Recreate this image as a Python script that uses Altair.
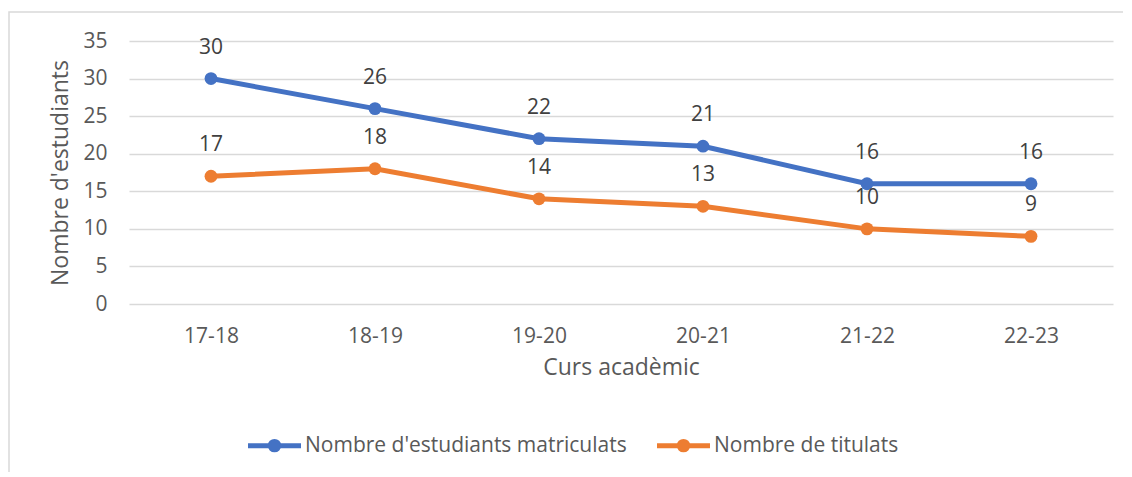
import altair as alt
import pandas as pd

cursos = ["17-18", "18-19", "19-20", "20-21", "21-22", "22-23"]
matriculats = [30, 26, 22, 21, 16, 16]
titulats = [17, 18, 14, 13, 10, 9]
series_names = ["Nombre d'estudiants matriculats", "Nombre de titulats"]
colors = ["#4472C4", "#ED7D31"]

rows = []
for c, v in zip(cursos, matriculats):
    rows.append({"Curs": c, "Valor": v, "Serie": series_names[0]})
for c, v in zip(cursos, titulats):
    rows.append({"Curs": c, "Valor": v, "Serie": series_names[1]})
df = pd.DataFrame(rows)

FONT = "Open Sans"

x_enc = alt.X("Curs:N", sort=cursos, title="Curs acadèmic",
              scale=alt.Scale(paddingInner=0, paddingOuter=0, align=0.5),
              axis=alt.Axis(labelAngle=0, domain=False, ticks=False, tickSize=0,
                            labelPadding=21, titlePadding=10,
                            labelFontSize=21, titleFontSize=23, grid=False))
y_enc = alt.Y("Valor:Q", title="Nombre d'estudiants",
              scale=alt.Scale(domain=[0, 35], nice=False),
              axis=alt.Axis(values=[0, 5, 10, 15, 20, 25, 30, 35], domain=False,
                            ticks=False, tickSize=0, labelPadding=22, titlePadding=10,
                            labelFontSize=21, titleFontSize=23, grid=True,
                            labelOverlap=False,
                            gridColor="#d9d9d9", gridWidth=1.5))

legend_path = ("M-2.5,0H2.5 "
               "M-0.4,0A0.4,0.4,0,1,0,0.4,0A0.4,0.4,0,1,0,-0.4,0 "
               "M-0.19,0A0.19,0.19,0,1,0,0.19,0A0.19,0.19,0,1,0,-0.19,0")

color_enc = alt.Color(
    "Serie:N", scale=alt.Scale(domain=series_names, range=colors), title=None,
    legend=alt.Legend(orient="none", legendX=132, legendY=391,
                      direction="horizontal",
                      symbolType=legend_path, symbolSize=449,
                      symbolStrokeWidth=5, symbolOpacity=1,
                      labelFont=FONT, labelFontSize=21,
                      labelColor="#595959", labelOffset=17,
                      columnPadding=20, labelLimit=500))

base = alt.Chart(df)

border = alt.Chart(pd.DataFrame({"a": [0]})).mark_rect(
    fill="transparent", stroke="#d9d9d9", strokeWidth=1.5
).encode(x=alt.value(-120), x2=alt.value(3000), y=alt.value(-29), y2=alt.value(3000))

lines = base.mark_line(strokeWidth=5).encode(
    x=x_enc, y=y_enc, color=color_enc, detail="Serie:N",
)

points = base.mark_point(filled=True, size=165, opacity=1).encode(
    x=x_enc, y=y_enc, color=color_enc,
)

labels = base.mark_text(dy=-31, fontSize=21, font=FONT, color="#404040").encode(
    x=x_enc, y=y_enc,
    text="Valor:Q",
)

chart = alt.layer(border, lines, points, labels).properties(
    width=984, height=263,
    autosize=alt.AutoSizeParams(type="none"),
    padding={"left": 121, "top": 33, "right": 10, "bottom": 168},
).configure_view(stroke=None).configure_axis(
    labelFont=FONT, titleFont=FONT, labelColor="#595959", titleColor="#595959",
    titleFontWeight="normal"
)

chart.save("out.html", embed_options={"renderer": "svg", "actions": False})
